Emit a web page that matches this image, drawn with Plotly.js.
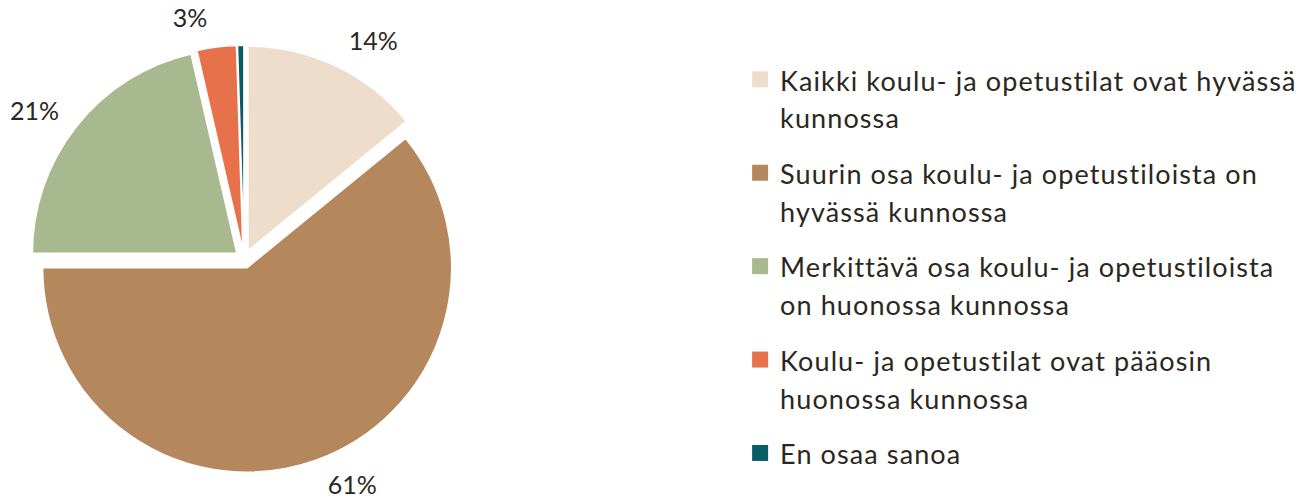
<!DOCTYPE html>
<html>
<head>
<meta charset="utf-8">
<script src="https://cdn.plot.ly/plotly-3.0.1.min.js"></script>
<style>html,body{margin:0;padding:0;background:#fff;}#chart{width:1303px;height:500px;}</style>
</head>
<body>
<div id="chart"></div>
<script>
// ---- data ----
const categories = [
  "Kaikki koulu- ja opetustilat ovat hyvässä kunnossa",
  "Suurin osa koulu- ja opetustiloista on hyvässä kunnossa",
  "Merkittävä osa koulu- ja opetustiloista on huonossa kunnossa",
  "Koulu- ja opetustilat ovat pääosin huonossa kunnossa",
  "En osaa sanoa"
];
const legendLabels = [
  "Kaikki koulu- ja opetustilat ovat hyvässä<br>kunnossa",
  "Suurin osa koulu- ja opetustiloista on<br>hyvässä kunnossa",
  "Merkittävä osa koulu- ja opetustiloista<br>on huonossa kunnossa",
  "Koulu- ja opetustilat ovat pääosin<br>huonossa kunnossa",
  "En osaa sanoa"
];
const values = [14.1, 60.9, 21.4, 3.1, 0.5];
const showLabel = [true, true, true, true, false];

// ---- style ----
const colors = ["#EEDDCA", "#B5875C", "#A8B98F", "#E6714B", "#0B5B66"];
const textColor = "#2B271D";
const FONT = "Lato, 'Open Sans', sans-serif";
const PULL = 0.045;

// main pie (slices)
const pie = {
  type: "pie",
  labels: categories,
  values: values,
  sort: false,
  direction: "clockwise",
  rotation: 0,
  pull: values.map(() => PULL),
  marker: { colors: colors, line: { color: "#ffffff", width: 1.5 } },
  textinfo: "none",
  showlegend: false,
  hoverinfo: "none",
  domain: { x: [0.0233, 0.3513], y: [0.0546, 0.9094] }
};

// same data, slightly larger transparent ring carrying the outside percentage labels
const labelPie = {
  type: "pie",
  labels: categories,
  values: values,
  sort: false,
  direction: "clockwise",
  rotation: 0,
  pull: values.map(() => PULL),
  marker: { colors: values.map(() => "rgba(0,0,0,0)"), line: { width: 0 } },
  textposition: "outside",
  texttemplate: showLabel.map(s => s ? "%{percent:.0%}" : ""),
  textfont: { family: FONT, size: 25, color: textColor },
  showlegend: false,
  hoverinfo: "none",
  domain: { x: [0.0132, 0.3613], y: [0.0324, 0.9396] }
};

const legendTraces = categories.map((c, i) => ({
  type: "scatter",
  mode: "markers",
  x: [null], y: [null],
  name: legendLabels[i].split("<br>").map(p => '<span style="font-size:27px;letter-spacing:1.1px">' + p + '</span>').join("<br>"),
  legendgroup: "g" + i,
  marker: { symbol: "square", size: 18, color: colors[i] },
  hoverinfo: "none"
}));

const layout = {
  width: 1303, height: 500,
  margin: { l: 0, r: 0, t: 0, b: 0 },
  paper_bgcolor: "#ffffff",
  plot_bgcolor: "#ffffff",
  font: { family: FONT, color: textColor },
  xaxis: { visible: false },
  yaxis: { visible: false },
  showlegend: true,
  legend: {
    x: 0.568, xanchor: "left",
    y: 0.892, yanchor: "top",
    font: { family: FONT, size: 29, color: textColor },
    traceorder: "grouped",
    tracegroupgap: 15,
    valign: "top",
    bgcolor: "rgba(0,0,0,0)"
  },
  hovermode: false
};

Plotly.newPlot("chart", [pie, labelPie].concat(legendTraces), layout, { staticPlot: true, displayModeBar: false });
</script>
</body>
</html>
